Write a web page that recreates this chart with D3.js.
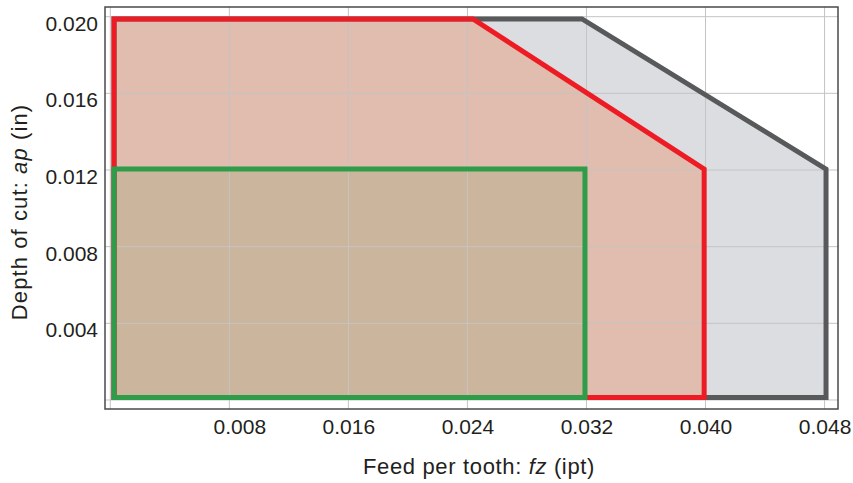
<!DOCTYPE html>
<html>
<head>
<meta charset="utf-8">
<script src="https://cdn.jsdelivr.net/npm/d3@7"></script>
<style>
  body { margin: 0; background: #fff; }
  text { font-family: "Liberation Sans", Arial, sans-serif; fill: #231f20; }
</style>
</head>
<body>
<div id="chart"></div>
<script>
// tick values
var xTicks = [0, 0.008, 0.016, 0.024, 0.032, 0.040, 0.048];
var yTicks = [0, 0.004, 0.008, 0.012, 0.016, 0.020];

// regions: [feed per tooth, depth of cut]
var grayRegion = [[0.00025, 0.00013], [0.00025, 0.01988], [0.0317, 0.01988], [0.0481, 0.01205], [0.0481, 0.00013]];
var redRegion = [[0.00025, 0.00013], [0.00025, 0.01988], [0.02437, 0.01988], [0.03991, 0.01205], [0.03991, 0.00013]];
var greenRegion = [[0.00025, 0.00013], [0.00025, 0.01205], [0.0319, 0.01205], [0.0319, 0.00013]];

var width = 853, height = 483;
var plotLeft = 105, plotRight = 838, plotTop = 7, plotBottom = 409;

var svg = d3.select("#chart").append("svg")
    .attr("width", width)
    .attr("height", height);

var x = d3.scaleLinear().domain([-0.000356, 0.048904]).range([plotLeft, plotRight]);
var y = d3.scaleLinear().domain([-0.00047, 0.020505]).range([plotBottom, plotTop]);

var line = d3.line()
    .x(function (d) { return x(d[0]); })
    .y(function (d) { return y(d[1]); })
    .curve(d3.curveLinearClosed);

var shapes = [
    { pts: grayRegion, fill: "#dcdde0", stroke: "#58595b" },
    { pts: redRegion, fill: "#e0bdae", stroke: "#ed1c24" },
    { pts: greenRegion, fill: "#cbb59c", stroke: "#2f9c4a" }
];

// fills first
svg.selectAll(".fill")
    .data(shapes)
  .enter().append("path")
    .attr("class", "fill")
    .attr("d", function (d) { return line(d.pts); })
    .attr("fill", function (d) { return d.fill; });

// grid over fills
svg.append("g").selectAll("line")
    .data(xTicks)
  .enter().append("line")
    .attr("x1", function (d) { return x(d); })
    .attr("x2", function (d) { return x(d); })
    .attr("y1", plotTop)
    .attr("y2", plotBottom)
    .attr("stroke", "#c4c4c4")
    .attr("stroke-width", 1);

svg.append("g").selectAll("line")
    .data(yTicks)
  .enter().append("line")
    .attr("x1", plotLeft)
    .attr("x2", plotRight)
    .attr("y1", function (d) { return y(d); })
    .attr("y2", function (d) { return y(d); })
    .attr("stroke", "#c4c4c4")
    .attr("stroke-width", 1);

// outlines
svg.selectAll(".edge")
    .data(shapes)
  .enter().append("path")
    .attr("class", "edge")
    .attr("d", function (d) { return line(d.pts); })
    .attr("fill", "none")
    .attr("stroke", function (d) { return d.stroke; })
    .attr("stroke-width", 5)
    .attr("stroke-linejoin", "miter");

// frame
svg.append("rect")
    .attr("x", plotLeft)
    .attr("y", plotTop)
    .attr("width", plotRight - plotLeft)
    .attr("height", plotBottom - plotTop)
    .attr("fill", "none")
    .attr("stroke", "#4a4a4a")
    .attr("stroke-width", 1.5);

// tick labels
var fmt = d3.format(".3f");

var xAxis = svg.append("g")
    .attr("transform", "translate(0," + plotBottom + ")")
    .call(d3.axisBottom(x).tickValues(xTicks.slice(1)).tickSize(0).tickPadding(0).tickFormat(fmt));
xAxis.select(".domain").remove();
xAxis.selectAll("text")
    .attr("y", 25)
    .attr("dy", 0)
    .style("font-size", "21px")
    .attr("dx", function (d, i) { return i == 0 ? 10 : 0; });

var yAxis = svg.append("g")
    .attr("transform", "translate(" + plotLeft + ",0)")
    .call(d3.axisLeft(y).tickValues(yTicks.slice(1)).tickSize(0).tickPadding(0).tickFormat(fmt));
yAxis.select(".domain").remove();
yAxis.selectAll("text")
    .attr("x", -7)
    .attr("dy", "0.35em")
    .attr("transform", "translate(0,6)")
    .style("font-size", "21px");
svg.selectAll(".tick text").attr("fill", "#231f20");
svg.selectAll("g").attr("font-family", null).attr("font-size", null);

// axis titles
var xt = svg.append("text")
    .attr("x", 479)
    .attr("y", 474)
    .attr("text-anchor", "middle")
    .style("font-size", "22px")
    .style("letter-spacing", "0.65px");
xt.append("tspan").text("Feed per tooth: ");
xt.append("tspan").style("font-style", "italic").text("fz");
xt.append("tspan").text(" (ipt)");

var yt = svg.append("text")
    .attr("transform", "translate(27,212) rotate(-90)")
    .attr("text-anchor", "middle")
    .style("font-size", "22px")
    .style("letter-spacing", "1.1px");
yt.append("tspan").text("Depth of cut: ");
yt.append("tspan").style("font-style", "italic").text("ap");
yt.append("tspan").text(" (in)");
</script>
</body>
</html>
